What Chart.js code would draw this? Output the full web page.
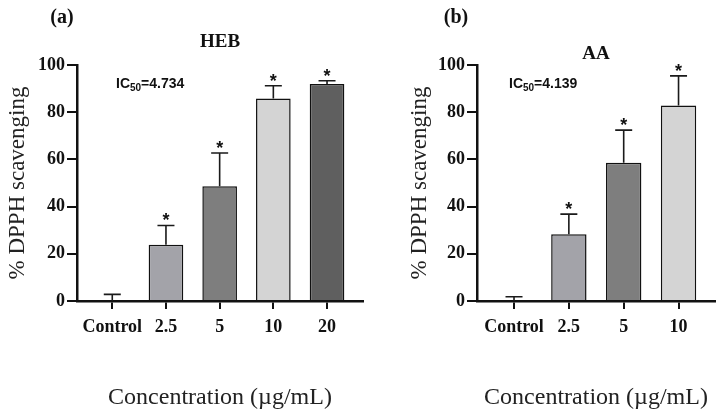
<!DOCTYPE html>
<html>
<head>
<meta charset="utf-8">
<script src="https://cdn.jsdelivr.net/npm/chart.js@4/dist/chart.umd.min.js"></script>
<style>
  html, body { margin: 0; padding: 0; background: #fff; }
  #wrap { position: relative; width: 727px; height: 414px; overflow: hidden; }
  canvas { position: absolute; top: 0; }
  #chartA { left: 0; }
  #chartB { left: 400px; }
</style>
</head>
<body>
<div id="wrap">
  <canvas id="chartA" width="370" height="414"></canvas>
  <canvas id="chartB" width="327" height="414"></canvas>
</div>
<script>
//
// DPPH scavenging, two panels
//

// Panel (a) - HEB
var catsA = ['Control', '2.5', '5', '10', '20'];
var meanA = [0, 23.8, 48.6, 85.8, 91.9];
var sdA = [2.8, 8.2, 14.1, 5.4, 1.4];
var starA = [false, true, true, true, true];
var ic50A = '4.734';

// Panel (b) - AA
var catsB = ['Control', '2.5', '5', '10'];
var meanB = [0, 28.3, 58.6, 82.8];
var sdB = [1.8, 8.5, 13.8, 12.6];
var starB = [false, true, true, true];
var ic50B = '4.139';

var yTicks = [0, 20, 40, 60, 80, 100];

var colorsA = ['#ffffff', '#a3a3a9', '#7e7e7e', '#d4d4d4', '#5f5f5f'];
var colorsB = ['#ffffff', '#a3a3a9', '#7e7e7e', '#d4d4d4'];

var serif = '"Liberation Serif", "Times New Roman", serif';
var sans = '"Liberation Sans", Arial, sans-serif';

// error bars, asterisks and panel texts
var annotate = {
	id: 'annotate',
	afterDatasetsDraw: function(chart, args, o) {
		var ctx = chart.ctx;
		var x = chart.scales.x, y = chart.scales.y;
		ctx.save();
		ctx.strokeStyle = '#1a1a1a';
		ctx.lineWidth = 1.6;
		o.means.forEach(function(m, i) {
			var px = x.getPixelForValue(i);
			var top = y.getPixelForValue(m + o.sds[i]);
			ctx.beginPath();
			ctx.moveTo(px, y.getPixelForValue(m));
			ctx.lineTo(px, top);
			ctx.moveTo(px - 8.5, top);
			ctx.lineTo(px + 8.5, top);
			ctx.stroke();
			if (o.stars[i]) {
				ctx.fillStyle = '#111';
				ctx.font = 'bold 18px ' + sans;
				ctx.textAlign = 'center';
				ctx.textBaseline = 'alphabetic';
				ctx.fillText('*', px, top + 1);
			}
		});
		ctx.restore();
	},
	afterDraw: function(chart, args, o) {
		var ctx = chart.ctx;
		var area = chart.chartArea;
		ctx.save();
		ctx.fillStyle = '#111';
		ctx.textBaseline = 'middle';
		ctx.textAlign = 'center';
		ctx.font = 'bold 20px ' + serif;
		ctx.fillText(o.panel, o.panelX, 18);
		ctx.font = 'bold 19px ' + serif;
		ctx.fillText(o.title, (area.left + area.right) / 2, o.titleY);

		// IC50 label with subscript
		ctx.textAlign = 'left';
		ctx.textBaseline = 'alphabetic';
		var tx = o.icX;
		ctx.font = 'bold 14px ' + sans;
		ctx.fillText('IC', tx, 88);
		tx += ctx.measureText('IC').width;
		ctx.font = 'bold 10px ' + sans;
		ctx.fillText('50', tx, 91);
		tx += ctx.measureText('50').width;
		ctx.font = 'bold 14px ' + sans;
		ctx.fillText('=' + o.ic50, tx, 88);
		ctx.restore();
	}
};

function makeChart(el, cats, means, sds, stars, colors, xMin, xMax, extra) {
	return new Chart(el, {
		type: 'bar',
		data: {
			datasets: [{
				data: means.map(function(v, i) { return { x: i, y: v }; }),
				backgroundColor: colors,
				borderColor: '#111',
				borderWidth: 1.5,
				barPercentage: 0.645,
				categoryPercentage: 1
			}]
		},
		options: {
			responsive: false,
			animation: false,
			layout: { padding: { top: 65, right: extra.padRight, left: 0, bottom: 0 } },
			plugins: {
				legend: { display: false },
				tooltip: { enabled: false },
				annotate: {
					means: means, sds: sds, stars: stars,
					panel: extra.panel, panelX: extra.panelX,
					title: extra.title, titleY: extra.titleY,
					icX: extra.icX, ic50: extra.ic50
				}
			},
			scales: {
				x: {
					type: 'linear',
					min: xMin,
					max: xMax,
					offset: false,
					afterFit: function(s) { s.height = 113; },
					border: { color: '#111', width: 2.5 },
					grid: { offset: false, drawOnChartArea: false, drawTicks: true, tickLength: 8, color: '#111', lineWidth: 2 },
					ticks: {
						stepSize: 1,
						includeBounds: false,
						autoSkip: false,
						maxRotation: 0,
						minRotation: 0,
						padding: 8,
						color: '#111',
						font: { family: serif, size: 18, weight: 'bold' },
						callback: function(v) { return cats[v] !== undefined ? cats[v] : ''; }
					},
					title: {
						display: true,
						text: 'Concentration (\u00b5g/mL)',
						color: '#222',
						font: { family: serif, size: 24 },
						padding: { top: 0, bottom: 2 }
					}
				},
				y: {
					min: 0,
					max: 100,
					afterFit: function(s) { s.width = 77; },
					afterBuildTicks: function(s) { s.ticks = yTicks.map(function(v) { return { value: v }; }); },
					border: { color: '#111', width: 2.5 },
					grid: { drawOnChartArea: false, drawTicks: true, tickLength: 10, color: '#111', lineWidth: 2 },
					ticks: {
						padding: 2,
						color: '#111',
						font: { family: serif, size: 18, weight: 'bold' }
					},
					title: {
						display: true,
						text: '% DPPH scavenging',
						color: '#222',
						font: { family: serif, size: 23 },
						padding: { top: extra.yTitlePad, bottom: 0 }
					}
				}
			}
		},
		plugins: [annotate]
	});
}

makeChart(document.getElementById('chartA'), catsA, meanA, sdA, starA, colorsA, -0.657, 4.67, {
	padRight: 7, panel: '(a)', panelX: 62, title: 'HEB', titleY: 42, icX: 116, ic50: ic50A, yTitlePad: 4
});

makeChart(document.getElementById('chartB'), catsB, meanB, sdB, starB, colorsB, -0.675, 3.665, {
	padRight: 12, panel: '(b)', panelX: 56, title: 'AA', titleY: 54, icX: 109, ic50: ic50B, yTitlePad: 6
});
</script>
</body>
</html>
